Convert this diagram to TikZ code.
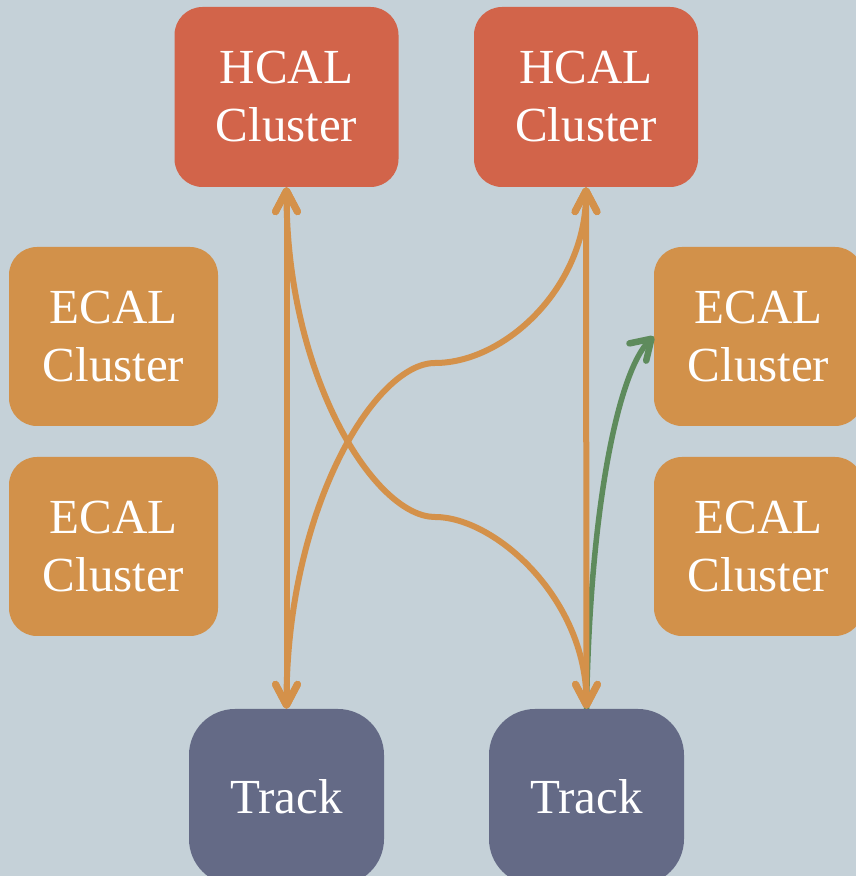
\documentclass[tikz,border=0pt]{standalone}
\usepackage{fontspec}
\setmainfont{Liberation Serif}
\usetikzlibrary{arrows.meta}

\definecolor{bgcol}{HTML}{C5D1D8}
\definecolor{hcalcol}{HTML}{D2644A}
\definecolor{ecalcol}{HTML}{D2914A}
\definecolor{trackcol}{HTML}{646A86}
\definecolor{linkcol}{HTML}{D4914A}
\definecolor{greencol}{HTML}{5E8B5C}

\tikzset{
  box/.style={rounded corners=28pt, inner sep=0pt, text=white, align=center,
              font=\fontsize{49}{58}\selectfont},
  hcal/.style={box, fill=hcalcol, minimum width=224pt, minimum height=180pt},
  ecal/.style={box, fill=ecalcol, minimum width=209pt, minimum height=179pt},
  track/.style={box, fill=trackcol, rounded corners=46pt, minimum width=195pt, minimum height=176pt},
  link/.style={draw=linkcol, line width=6pt,
    {Straight Barb[length=21pt, width=22pt, line width=7pt, round]}-{Straight Barb[length=21pt, width=22pt, line width=7pt, round]}},
  greenlink/.style={draw=greencol, line width=5.5pt,
    -{Straight Barb[length=19pt, width=24pt, line width=6.5pt, round]}}
}

\begin{document}
\begin{tikzpicture}[x=1pt, y=1pt]
  \useasboundingbox (0,0) rectangle (856,876);
  \clip (0,0) rectangle (856,876);
  \fill[bgcol] (0,0) rectangle (856,876);

  % clusters
  \node[hcal] (hcalA) at (286.5,779) {HCAL\\Cluster};
  \node[hcal] (hcalB) at (586,779) {HCAL\\Cluster};
  \node[ecal] (ecalL1) at (113.5,539.5) {ECAL\\Cluster};
  \node[ecal] (ecalL2) at (113.5,329.5) {ECAL\\Cluster};
  \node[ecal] (ecalR1) at (758.5,539.5) {ECAL\\Cluster};
  \node[ecal] (ecalR2) at (758.5,329.5) {ECAL\\Cluster};

  % tracks
  \node[track] (track1) at (286.5,79) {Track};
  \node[track] (track2) at (586.5,79) {Track};

  % turning points of the crossing links
  \coordinate (midA) at (435,513);
  \coordinate (midB) at (435,359);

  % track to ECAL link
  \draw[greenlink] (track2.north) .. controls +(3.5,209) and +(-34,-33) .. (ecalR1.west);

  % track to HCAL links
  \draw[link] (track1.north) -- (hcalA.south);
  \draw[link] (track2.north) -- (hcalB.south);
  \draw[link] (track1.north) .. controls +(0,200) and +(-60,0) .. (midA)
                             .. controls +(70,0) and +(0,-100) .. (hcalB.south);
  \draw[link] (hcalA.south) .. controls +(0,-190) and +(-60,0) .. (midB)
                            .. controls +(60,0) and +(0,110) .. (track2.north);
\end{tikzpicture}
\end{document}
